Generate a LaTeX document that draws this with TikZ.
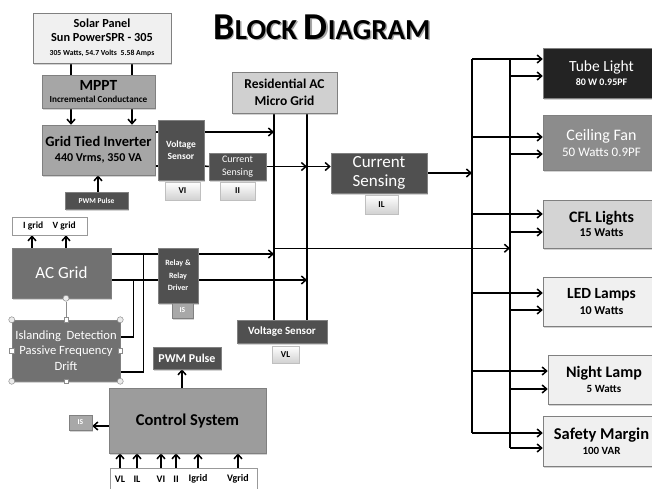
\documentclass[tikz,border=0pt]{standalone}
\usepackage{fontspec}
\setmainfont{Carlito}
\usetikzlibrary{arrows.meta,shadows,backgrounds,calc}
\definecolor{cLt}{HTML}{F0F0F0}
\definecolor{cMid}{HTML}{A6A6A6}
\definecolor{cDk}{HTML}{505050}
\definecolor{cGrid}{HTML}{717171}
\definecolor{cRes}{HTML}{D0D0D0}
\definecolor{cCtrl}{HTML}{9C9C9C}
\definecolor{cTube}{HTML}{232323}
\definecolor{cFan}{HTML}{8C8C8C}
\definecolor{cCfl}{HTML}{D4D4D4}
\definecolor{cIS}{HTML}{A8A8A8}
\newcommand\fz[2]{\fontsize{#1}{#2}\selectfont}
\newcommand\feed[3]{\path ([yshift=#3pt]#2.west) coordinate (tmpf); \draw[arr] (tmpf -| #1) -- (tmpf);}
\begin{document}
\begin{tikzpicture}[x=1pt,y=-1pt,
  box/.style={rectangle, draw=black!50, line width=0.5pt, inner sep=1pt, align=center,
    drop shadow={opacity=0.35,shadow xshift=1pt,shadow yshift=-1.5pt}},
  lbl/.style={rectangle, draw=black!25, line width=0.4pt, top color=white, bottom color=black!18,
    inner sep=0pt, font={\fz{9}{10}\bfseries}},
  wire/.style={line width=1.5pt},
  arr/.style={wire, -{Straight Barb[length=4.5pt,width=8pt]}},
  bus/.style={line width=2.4pt},
  hc/.style={circle, draw=black!45, fill=black!8, minimum size=6pt, inner sep=0pt, line width=0.5pt},
  hs/.style={rectangle, draw=black!45, fill=white, minimum size=4.5pt, inner sep=0pt, line width=0.5pt},
  inlbl/.style={inner sep=0pt, font={\fz{10}{11}\bfseries}}]
\useasboundingbox (0,0) rectangle (652,488);

% title
\node[text=black!35] (titleshadow) at (323.5,28.5) {\fz{38}{38}\bfseries B\fz{29}{29}LOCK \fz{38}{38}D\fz{29}{29}IAGRAM};
\node (title) at (322,27) {\fz{38}{38}\bfseries B\fz{29}{29}LOCK \fz{38}{38}D\fz{29}{29}IAGRAM};

% left chain
\node[box, fill=cLt, minimum width=138pt, minimum height=50pt] (solar) at (102,38)
  {\fz{12.3}{15}\bfseries Solar Panel\\[2pt]\fz{12.3}{15}\bfseries Sun PowerSPR - 305\\[1.5pt]\fz{7.7}{10}\bfseries 305 Watts, 54.7 Volts\enspace 5.58 Amps};
\node[box, fill=cMid, minimum width=113pt, minimum height=33pt] (mppt) at (98.5,91.5)
  {\fz{15.5}{17}\bfseries MPPT\\\fz{9.2}{10}\bfseries Incremental Conductance};
\node[box, fill=cMid, minimum width=113pt, minimum height=50pt] (inv) at (98.5,150)
  {\fz{14.5}{18}\bfseries Grid Tied Inverter\\[3pt]\fz{12}{14}\bfseries 440 Vrms, 350 VA};
\node[box, fill=cDk, text=white, minimum width=63pt, minimum height=17pt, font={\fz{7.5}{8}\bfseries}] (pwm1) at (96.5,200.5)
  {PWM Pulse};
\node[box, fill=cDk, text=white, minimum width=46pt, minimum height=60pt, font={\fz{9.5}{12}\bfseries}] (vs1) at (181,150)
  {Voltage\\Sensor};
\node[box, fill=cDk, text=white, minimum width=57pt, minimum height=27pt, inner sep=0pt, font={\fz{10}{12.5}}] (cs1) at (237.5,166.5)
  {Current\\Sensing};
\node[lbl, minimum width=35pt, minimum height=18pt] (vi) at (182.5,191) {VI};
\node[lbl, minimum width=35pt, minimum height=18pt] (ii) at (237.5,191) {II};

% residential grid
\node[box, fill=cRes, minimum width=105pt, minimum height=41pt, inner sep=0pt, font={\fz{13.5}{17}\bfseries}] (res) at (284.5,92.5)
  {Residential AC\\Micro Grid};
\node[box, fill=cDk, text=white, minimum width=96pt, minimum height=40pt, inner sep=0pt, font={\fz{17}{19}}] (cs2) at (379,173)
  {Current\\Sensing};
\node[lbl, minimum width=33pt, minimum height=19pt] (il) at (381.5,204.5) {IL};
\node[box, fill=cDk, text=white, minimum width=90pt, minimum height=23pt, font={\fz{11}{12}\bfseries}] (vs2) at (282,331.5)
  {Voltage Sensor};
\node[lbl, minimum width=27pt, minimum height=17pt] (vl) at (285.5,354.5) {VL};

% AC grid side
\node[box, fill=cDk, text=white, minimum width=40pt, minimum height=55pt, inner sep=0pt, font={\fz{8}{12.5}\bfseries}] (relay) at (178,275.5)
  {Relay \&\\Relay\\Driver};
\node[box, fill=cIS, text=white, minimum width=21pt, minimum height=15pt, font={\fz{7.5}{8}\bfseries}] (is1) at (182.5,310.5) {IS};
\node[box, fill=cGrid, text=white, minimum width=99pt, minimum height=50pt, font={\fz{17}{19}}] (acgrid) at (61.5,273)
  {AC Grid};
\node[rectangle, draw=black!40, fill=white, line width=0.5pt, minimum width=75pt, minimum height=18pt, inner sep=0pt, font={\fz{9.5}{10}\bfseries}] (igv) at (49.5,226)
  {I grid\quad V grid};
\node[box, fill=cGrid, text=white, minimum width=108pt, minimum height=61pt, inner sep=0pt, font={\fz{12.6}{15.5}}] (isl) at (66,350.5)
  {Islanding\ \ Detection\\Passive Frequency\\Drift};

% control
\node[box, fill=cDk, text=white, minimum width=68pt, minimum height=22pt, inner sep=0pt, font={\fz{12}{14}\bfseries}] (pwm2) at (187,358)
  {PWM Pulse};
\node[box, fill=cCtrl, minimum width=157pt, minimum height=65pt, font={\fz{16.5}{18}\bfseries}] (ctrl) at (187.5,420.5)
  {Control System};
\node[box, fill=cIS, text=white, minimum width=23pt, minimum height=15pt, font={\fz{7.5}{8}\bfseries}] (is2) at (80.5,422.5) {IS};
\node[rectangle, draw=black!40, fill=white, line width=0.5pt, minimum width=147pt, minimum height=24pt] (inputs) at (183.5,480) {};
\node[inlbl] (inVL) at (120,479) {VL};
\node[inlbl] (inIL) at (137,479) {IL};
\node[inlbl] (inVI) at (161,479) {VI};
\node[inlbl] (inII) at (176,479) {II};
\node[inlbl] (inIg) at (198,479) {Igrid};
\node[inlbl] (inVg) at (238,479) {Vgrid};

% loads
\node[box, fill=cTube, text=white, minimum width=117pt, minimum height=50pt] (tube) at (601.5,73)
  {\fz{15.5}{17}Tube Light\\[2pt]\fz{10}{12}\bfseries 80 W 0.95PF};
\node[box, fill=cFan, text=white, minimum width=117pt, minimum height=55pt] (fan) at (601.5,142.5)
  {\fz{16}{19}Ceiling Fan\\[4pt]\fz{13}{15}50 Watts 0.9PF};
\node[box, fill=cCfl, minimum width=117pt, minimum height=48pt] (cfl) at (601.5,224)
  {\fz{16}{18}\bfseries CFL Lights\\[2pt]\fz{12}{14}\bfseries 15 Watts};
\node[box, fill=cLt, minimum width=117pt, minimum height=49pt] (led) at (601.5,301.5)
  {\fz{15.5}{18}\bfseries LED Lamps\\[4pt]\fz{12}{14}\bfseries 10 Watts};
\node[box, fill=cLt, minimum width=112pt, minimum height=49pt] (night) at (604,379.5)
  {\fz{16}{18}\bfseries Night Lamp\\[3pt]\fz{11}{14}\bfseries 5 Watts};
\node[box, fill=cLt, minimum width=117pt, minimum height=50pt] (safety) at (601.5,441)
  {\fz{16.5}{18}\bfseries Safety Margin\\[3pt]\fz{11}{14}\bfseries 100 VAR};

% selection handles
\node[hc] (hag) at (isl.north |- acgrid.south) {};
\node[hc] (h1) at (isl.north east) {};
\node[hc] (h2) at (isl.south east) {};
\node[hc] (h3) at (isl.north west) {};
\node[hc] (h4) at (isl.south west) {};
\node[hs] (h5) at (isl.north) {};
\node[hs] (h6) at (isl.south) {};
\node[hs] (h7) at (isl.east) {};
\node[hs] (h8) at (isl.west) {};

\coordinate (L1t) at (472,59);
\coordinate (L1b) at (472,433);
\coordinate (L2t) at (510,59);
\coordinate (L2b) at (510,448);

\begin{pgfonlayer}{background}
% solar -> mppt -> inverter
\path ([xshift=-31pt]solar.south) coordinate (s1);
\path ([xshift=30pt]solar.south) coordinate (s2);
\draw[wire] (s1) -- (s1 |- mppt.north);
\draw[wire] (s2) -- (s2 |- mppt.north);
\draw[arr] (s1 |- mppt.south) -- (s1 |- inv.north);
\draw[arr] (s2 |- mppt.south) -- (s2 |- inv.north);
\draw[arr] ([xshift=1.5pt]pwm1.north) -- ([xshift=1.5pt]pwm1.north |- inv.south);
% inverter -> voltage sensor
\draw[wire] ([yshift=18pt]inv.east) -- ([yshift=18pt]vs1.west);
\draw[wire] ([yshift=-16pt]inv.east) -- ([yshift=-16pt]vs1.west);
% residential buses
\path ([xshift=-10.5pt]res.south) coordinate (bAt);
\path ([xshift=22.5pt]res.south) coordinate (bBt);
\draw[bus] (bAt) -- (bAt |- vs2.north);
\draw[bus] (bBt) -- (bBt |- vs2.north);
\path ([yshift=18pt]vs1.east) coordinate (v1a);
\draw[arr] (v1a) -- (v1a -| bAt);
\draw[wire] ([yshift=-16pt]vs1.east) -- (cs1.west);
\draw[arr] (cs1.east) -- (cs1.east -| bBt);
\draw[arr] (cs1.east -| bBt) -- (cs1.east -| cs2.west);
\draw[arr] (cs2.east) -- (cs2.east -| L1t);
% AC grid
\path ([yshift=19pt]acgrid.east) coordinate (g1);
\path ([yshift=-7pt]acgrid.east) coordinate (g2);
\draw[arr] (g1) -- (g1 -| bAt);
\draw[arr] (g2) -- (g2 -| bBt);
\path (g1) ++(32,0) coordinate (g1d);
\path (g2) ++(22,0) coordinate (g2d);
\draw[wire] (g1d) |- ([yshift=-21.5pt]isl.east);
\draw[wire] (g2d) |- ([yshift=13.5pt]isl.east);
\path ([xshift=-29.5pt]acgrid.north) coordinate (a1);
\path ([xshift=4.5pt]acgrid.north) coordinate (a2);
\draw[arr] (a1) -- (a1 |- igv.south);
\draw[arr] (a2) -- (a2 |- igv.south);
\draw[black!45, line width=1pt] (hag) -- (h5);
\draw[arr] (bAt |- cfl.south) -- (L2t |- cfl.south);
% control
\path ([xshift=-5.5pt]ctrl.north) coordinate (c1);
\draw[arr] (c1) -- (c1 |- pwm2.south);
\path ([yshift=-5.5pt]ctrl.west) coordinate (c2);
\draw[arr] (c2) -- (c2 -| is2.east);
\foreach \n in {inVL,inIL,inVI,inII,inIg,inVg}
  \draw[arr] (\n |- inputs.north) -- (\n |- ctrl.south);
% load buses
\draw[bus] (L1t) -- (L1b);
\draw[bus] (L2t) -- (L2b);
\draw[arr] (L1t) -- (L1t -| tube.west);
\feed{L2t}{tube}{-3}
\feed{L1t}{fan}{5.5}
\feed{L2t}{fan}{-11.5}
\feed{L1t}{cfl}{10}
\feed{L2t}{cfl}{-8}
\feed{L1t}{led}{8.5}
\feed{L2t}{led}{-8.5}
\feed{L1t}{night}{8.5}
\feed{L2t}{night}{-9.5}
\draw[arr] (L1b) -- (L1b -| safety.west);
\draw[arr] (L2b) -- (L2b -| safety.west);
\end{pgfonlayer}
\end{tikzpicture}
\end{document}
